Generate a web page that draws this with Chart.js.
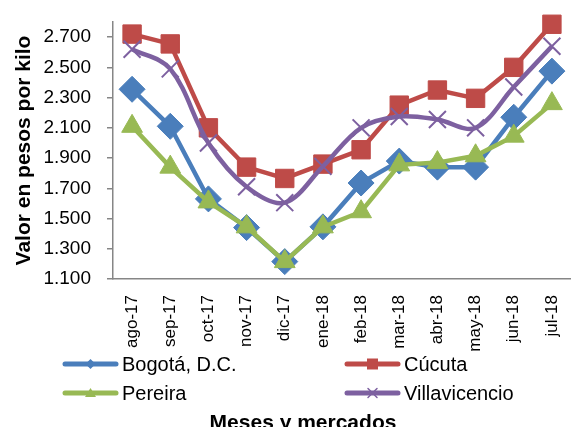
<!DOCTYPE html>
<html>
<head>
<meta charset="utf-8">
<script src="https://cdn.jsdelivr.net/npm/chart.js@4"></script>
<style>
  html, body { margin: 0; padding: 0; background: #fff; overflow: hidden; }
  #wrap { width: 571px; height: 427px; position: relative; }
  canvas { display: block; }
</style>
</head>
<body>
<div id="wrap"><canvas id="precios"></canvas></div>
<script>
// Datos
var meses = ['ago-17', 'sep-17', 'oct-17', 'nov-17', 'dic-17', 'ene-18',
             'feb-18', 'mar-18', 'abr-18', 'may-18', 'jun-18', 'jul-18'];
var bogota        = [2355, 2110, 1630, 1440, 1215, 1445, 1735, 1880, 1840, 1840, 2170, 2475];
var cucuta        = [2720, 2655, 2100, 1840, 1765, 1860, 1955, 2250, 2350, 2295, 2500, 2785];
var pereira       = [2110, 1840, 1610, 1445, 1215, 1445, 1545, 1855, 1870, 1915, 2045, 2260];
var villavicencio = [2620, 2490, 2000, 1710, 1605, 1845, 2100, 2175, 2155, 2100, 2370, 2640];
var yTicks = [1100, 1300, 1500, 1700, 1900, 2100, 2300, 2500, 2700];

var FONT = 'Liberation Sans, Arial, sans-serif';
var AXIS = '#868686';

function miles(v) {
    var s = String(v);
    return s.length > 3 ? s.slice(0, s.length - 3) + '.' + s.slice(-3) : s;
}

// marcador pequeño para la leyenda
function marcador(ctx, estilo, color, x, y) {
    ctx.save();
    ctx.fillStyle = color;
    ctx.strokeStyle = color;
    ctx.beginPath();
    if (estilo == 'rectRot') {
        ctx.moveTo(x - 5, y); ctx.lineTo(x, y - 5); ctx.lineTo(x + 5, y); ctx.lineTo(x, y + 5);
        ctx.closePath(); ctx.fill();
    } else if (estilo == 'rect') {
        ctx.rect(x - 5.5, y - 5.5, 11, 11); ctx.fill();
    } else if (estilo == 'triangle') {
        ctx.moveTo(x, y - 5); ctx.lineTo(x + 5.5, y + 4); ctx.lineTo(x - 5.5, y + 4);
        ctx.closePath(); ctx.fill();
    } else {
        ctx.lineWidth = 1.5;
        ctx.moveTo(x - 4.5, y - 4.5); ctx.lineTo(x + 4.5, y + 4.5);
        ctx.moveTo(x + 4.5, y - 4.5); ctx.lineTo(x - 4.5, y + 4.5);
        ctx.stroke();
    }
    ctx.restore();
}

// leyenda en dos columnas y título del eje X debajo
var leyenda = {
    id: 'leyenda',
    afterDraw: function (chart) {
        var ctx = chart.ctx;
        var base = chart.chartArea.bottom;
        chart.data.datasets.forEach(function (ds, i) {
            var x0 = (i % 2) ? 345 : 63;
            var y = base + 85 + Math.floor(i / 2) * 29;
            ctx.save();
            ctx.strokeStyle = ds.borderColor;
            ctx.lineWidth = 5;
            ctx.lineCap = 'round';
            ctx.beginPath();
            ctx.moveTo(x0 + 2, y);
            ctx.lineTo(x0 + 53, y);
            ctx.stroke();
            marcador(ctx, ds.pointStyle, ds.borderColor, x0 + 27.5, y);
            ctx.fillStyle = '#000';
            ctx.font = '20px ' + FONT;
            ctx.textBaseline = 'middle';
            ctx.fillText(ds.label, x0 + 59, y + 1);
            ctx.restore();
        });
        ctx.save();
        ctx.fillStyle = '#000';
        ctx.font = 'bold 21px ' + FONT;
        ctx.textAlign = 'center';
        ctx.textBaseline = 'middle';
        ctx.fillText('Meses y mercados', 303, base + 144);
        ctx.restore();
    }
};

function serie(label, data, color, estilo, radio, extra) {
    var ds = {
        label: label,
        data: data,
        borderColor: color,
        backgroundColor: color,
        pointBackgroundColor: color,
        pointBorderColor: color,
        borderWidth: 4.5,
        pointStyle: estilo,
        pointRadius: radio,
        pointBorderWidth: 1,
        tension: 0,
        clip: false
    };
    for (var k in extra) ds[k] = extra[k];
    return ds;
}

var ctx = document.getElementById('precios').getContext('2d');
var grafico = new Chart(ctx, {
    type: 'line',
    data: {
        labels: meses,
        datasets: [
            serie('Bogotá, D.C.', bogota, '#4A7EBB', 'rectRot', 13, {order: 3}),
            serie('Cúcuta', cucuta, '#BE4B48', 'rect', 13, {order: 2}),
            serie('Pereira', pereira, '#98B954', 'triangle', 12, {order: 1}),
            serie('Villavicencio', villavicencio, '#7D60A0', 'crossRot', 12,
                  {order: 0, tension: 0.35, pointBorderWidth: 2})
        ]
    },
    options: {
        responsive: true,
        maintainAspectRatio: false,
        animation: false,
        layout: { autoPadding: false, padding: { top: 22, left: 0, right: 0, bottom: 0 } },
        plugins: {
            legend: { display: false },
            tooltip: { enabled: false },
            title: { display: false }
        },
        scales: {
            x: {
                offset: true,
                grid: { display: false },
                border: { display: true, color: AXIS, width: 1.5 },
                ticks: {
                    color: '#000',
                    font: { family: FONT, size: 17 },
                    minRotation: 90,
                    maxRotation: 90,
                    autoSkip: false,
                    padding: 8
                },
                afterFit: function (s) {
                    s.height = 148;
                    s.paddingLeft = 0;
                    s.paddingRight = 0;
                }
            },
            y: {
                min: 1100,
                max: 2800,
                afterBuildTicks: function (s) {
                    s.ticks = yTicks.map(function (v) { return { value: v }; });
                },
                grid: { drawOnChartArea: false, drawTicks: true, tickLength: 6, color: AXIS, lineWidth: 1.5 },
                border: { display: true, color: AXIS, width: 1.5 },
                ticks: {
                    color: '#000',
                    font: { family: FONT, size: 19 },
                    padding: 16,
                    callback: function (v) { return miles(v); }
                },
                title: {
                    display: true,
                    text: 'Valor en pesos por kilo',
                    color: '#000',
                    font: { family: FONT, size: 21, weight: 'bold' },
                    padding: { top: 12, bottom: 0 }
                },
                afterFit: function (s) {
                    s.width = 113;
                    s.paddingTop = 0;
                    s.paddingBottom = 0;
                }
            }
        }
    },
    plugins: [leyenda]
});
</script>
</body>
</html>
